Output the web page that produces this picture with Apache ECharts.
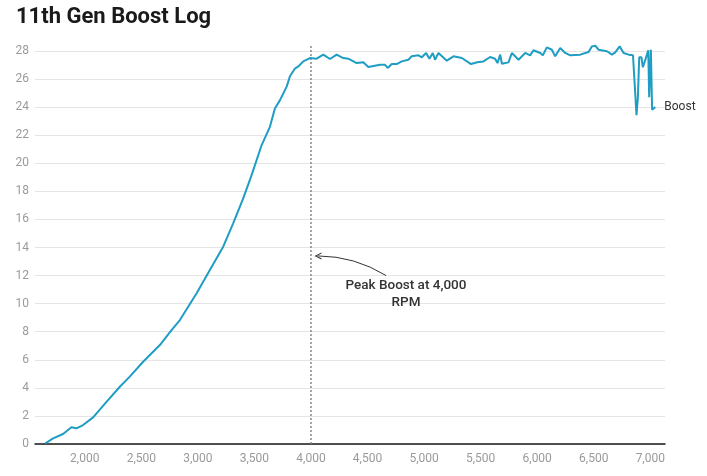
<!DOCTYPE html>
<html>
<head>
<meta charset="utf-8">
<title>11th Gen Boost Log</title>
<script src="https://cdn.jsdelivr.net/npm/echarts@6/dist/echarts.min.js"></script>
<style>
  html, body { margin: 0; padding: 0; background: #fff; }
  #chart { width: 707px; height: 476px; }
</style>
</head>
<body>
<div id="chart"></div>
<script>
var rpm = [1652, 1720, 1808, 1882, 1926, 1985, 2074, 2192, 2310, 2398, 2516, 2664, 2767, 2841, 2989,
  3106, 3224, 3312, 3401, 3475, 3564, 3637, 3681, 3726, 3785, 3814, 3858, 3888, 3932, 3991,
  4050, 4109, 4168, 4227, 4286, 4330, 4404, 4463, 4507, 4611, 4655, 4678, 4714, 4758, 4803,
  4861, 4891, 4950, 4980, 5018, 5047, 5077, 5097, 5127, 5201, 5260, 5334, 5415, 5470, 5525,
  5584, 5628, 5649, 5673, 5688, 5746, 5776, 5835, 5894, 5938, 5967, 6027, 6050, 6085, 6130,
  6159, 6204, 6248, 6292, 6381, 6454, 6484, 6513, 6543, 6617, 6661, 6690, 6729, 6764, 6809,
  6847, 6878, 6890, 6902, 6922, 6934, 6958, 6982, 6990, 7005, 7016, 7044];
var boost = [0.05, 0.4, 0.71, 1.19, 1.12, 1.35, 1.9, 3.0, 4.08, 4.8, 5.86, 7.05, 8.12, 8.83, 10.74,
  12.4, 14.06, 15.72, 17.5, 19.16, 21.3, 22.6, 23.9, 24.5, 25.46, 26.2, 26.75, 26.9, 27.26, 27.5,
  27.45, 27.74, 27.43, 27.74, 27.5, 27.45, 27.14, 27.2, 26.86, 27.02, 27.02, 26.79, 27.07, 27.07, 27.26,
  27.38, 27.62, 27.69, 27.55, 27.86, 27.45, 27.86, 27.38, 27.86, 27.31, 27.62, 27.5, 27.07, 27.2, 27.26,
  27.57, 27.45, 27.14, 27.74, 27.09, 27.19, 27.86, 27.38, 27.86, 27.69, 28.05, 27.86, 27.69, 28.26, 28.09,
  27.62, 28.21, 27.86, 27.69, 27.74, 27.93, 28.33, 28.38, 28.09, 27.98, 27.74, 27.9, 28.33, 27.86, 27.74,
  27.7, 23.42, 24.65, 27.55, 27.55, 26.84, 27.42, 28.05, 24.7, 28.09, 23.82, 24.0];

// peak marker and its note
var peakRpm = 4000;
var peakTop = 28.45;
var noteText = 'Peak Boost at 4,000\nRPM';
var noteFrom = [4664, 12.0];
var noteTo = [4062, 13.4];
var notePos = [4840, 10.65];

var yTicks = { min: 0, max: 28, step: 2 };

var boostData = rpm.map(function (r, i) { return [r, boost[i]]; });

var chart = echarts.init(document.getElementById('chart'));

var option = {
    animation: false,
    textStyle: { fontFamily: 'Roboto' },
    title: {
        text: '11th Gen Boost Log',
        left: 16,
        top: 6,
        padding: 0,
        textStyle: { fontSize: 22, fontWeight: 'bold', color: '#1a1a1a', fontFamily: 'Roboto' }
    },
    grid: { left: 35, right: 42, top: 51, bottom: 32, containLabel: false },
    xAxis: {
        type: 'value',
        min: 1560,
        max: 7130,
        splitNumber: 11,
        axisLine: { show: true, onZero: false, lineStyle: { color: '#1a1a1a', width: 1.5 } },
        axisTick: { show: false },
        splitLine: { show: false },
        axisLabel: {
            color: '#9a9a9a',
            fontSize: 12,
            margin: 9,
            showMinLabel: false,
            showMaxLabel: false,
            formatter: function (v) { return v.toLocaleString('en-US'); }
        }
    },
    yAxis: {
        type: 'value',
        min: yTicks.min,
        max: yTicks.max,
        interval: yTicks.step,
        axisLine: { show: false },
        axisTick: { show: false },
        splitLine: { lineStyle: { color: '#e5e5e5', width: 1 } },
        axisLabel: { color: '#9a9a9a', fontSize: 12, margin: 6 }
    },
    series: [
        {
            name: 'peak',
            type: 'line',
            data: [[peakRpm, 0], [peakRpm, peakTop]],
            showSymbol: false,
            clip: false,
            silent: true,
            lineStyle: { color: '#888', width: 1.5, type: [2, 2] },
            markPoint: {
                silent: true,
                symbol: 'circle',
                symbolSize: 0,
                label: {
                    show: true,
                    position: 'inside',
                    formatter: noteText,
                    color: '#333',
                    fontSize: 13.5,
                    fontWeight: 500,
                    lineHeight: 17,
                    align: 'center'
                },
                data: [{ coord: notePos }]
            }
        },
        {
            // curved arrow pointing at the peak line
            name: 'note',
            type: 'lines',
            coordinateSystem: 'cartesian2d',
            silent: true,
            symbol: ['none', 'path://M0,10 L5,0 L10,10 L8.4,10 L5,3.2 L1.6,10 Z'],
            symbolSize: [9, 7],
            lineStyle: { color: '#333', width: 1, opacity: 1, curveness: -0.14 },
            data: [{ coords: [noteFrom, noteTo] }]
        },
        {
            name: 'Boost',
            type: 'line',
            data: boostData,
            showSymbol: false,
            clip: false,
            lineStyle: { color: '#1f9dc4', width: 2 },
            itemStyle: { color: '#1f9dc4' },
            endLabel: {
                show: true,
                formatter: 'Boost',
                color: '#333',
                fontSize: 12,
                distance: 9
            }
        }
    ]
};

chart.setOption(option);
</script>
</body>
</html>
